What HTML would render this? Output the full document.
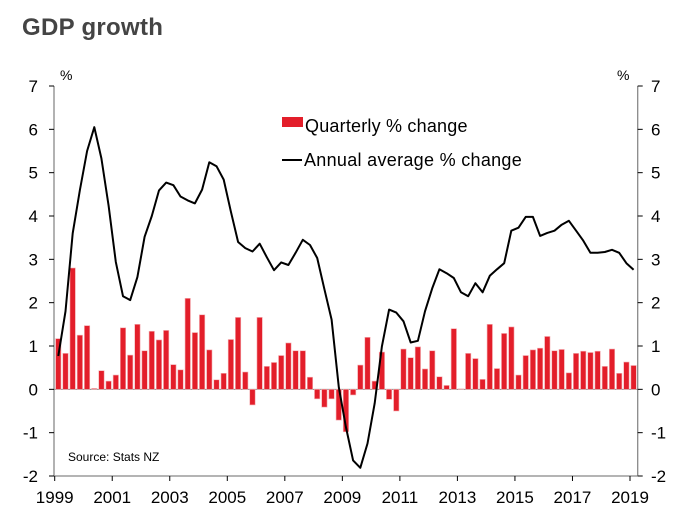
<!DOCTYPE html>
<html><head><meta charset="utf-8"><style>
body{margin:0;background:#fff}
svg{display:block;font-family:"Liberation Sans",sans-serif}
</style></head><body>
<svg id="chart" width="691" height="522">
<text x="22" y="35" font-size="24" fill="#444" font-weight="bold" style="letter-spacing:0.3px">GDP growth</text>
<g id="axes"></g>
<g id="bars"></g>
<g id="line"></g>
<rect x="282" y="117" width="21" height="10" fill="#e31e2a"/>
<text x="305" y="132" font-size="18" fill="#000" style="letter-spacing:0.2px">Quarterly % change</text>
<line x1="282" y1="160" x2="302" y2="160" stroke="#000" stroke-width="2"/>
<text x="304" y="166" font-size="18" fill="#000" style="letter-spacing:0.3px">Annual average % change</text>
<text x="68" y="461" font-size="12" fill="#000">Source: Stats NZ</text>
<text x="60" y="80" font-size="14">%</text>
<text x="617" y="80" font-size="14">%</text>
</svg>
<script>
const quarterly=[1.17,0.83,2.8,1.25, 1.47,0.02,0.43,0.19, 0.33,1.42,0.79,1.5, 0.89,1.34,1.14,1.36, 0.57,0.45,2.1,1.31, 1.72,0.91,0.22,0.37, 1.15,1.66,0.4,-0.36, 1.66,0.53,0.62,0.78, 1.07,0.89,0.89,0.28, -0.22,-0.41,-0.22,-0.71, -0.98,-0.13,0.56,1.2, 0.19,0.86,-0.23,-0.5, 0.93,0.73,0.98,0.47, 0.89,0.29,0.09,1.4, 0.01,0.83,0.71,0.23, 1.5,0.48,1.29,1.44, 0.33,0.78,0.91,0.95, 1.22,0.89,0.92,0.38, 0.83,0.88,0.85,0.88, 0.53,0.93,0.37,0.63, 0.55];
const annual=[0.77,1.8,3.6,4.6,5.5,6.05,5.33,4.24,2.94,2.15,2.06,2.59,3.52,4.0,4.59,4.77,4.71,4.45,4.36,4.29,4.61,5.24,5.15,4.84,4.1,3.4,3.26,3.18,3.36,3.05,2.75,2.93,2.87,3.15,3.45,3.33,3.03,2.31,1.61,0.05,-0.87,-1.64,-1.81,-1.25,-0.32,0.99,1.84,1.77,1.57,1.08,1.12,1.8,2.33,2.77,2.68,2.57,2.24,2.15,2.45,2.24,2.62,2.77,2.91,3.66,3.73,3.98,3.98,3.54,3.61,3.66,3.8,3.89,3.66,3.43,3.15,3.15,3.17,3.22,3.15,2.91,2.76];
const yTicks=[-2,-1,0,1,2,3,4,5,6,7];
const xTickYears=[1999,2001,2003,2005,2007,2009,2011,2013,2015,2017,2019];
const startYear=1999;
const NS="http://www.w3.org/2000/svg";
const L=54,R=637.7,T=86,B=476,yMin=-2,yMax=7,x0=54.7,x1=630;
function y(v){return B-(v-yMin)/(yMax-yMin)*(B-T);}
function xYear(t){return x0+(t-startYear)/20*(x1-x0);}
function xQ(i){return xYear(startYear+(i+0.5)/4);}
function mk(tag,attrs,parent){const e=document.createElementNS(NS,tag);for(const k in attrs)e.setAttribute(k,attrs[k]);parent.appendChild(e);return e;}
const ax=document.getElementById('axes');
let e=mk('line',{x1:L,y1:T,x2:L,y2:B,stroke:'#888','stroke-width':1.3},ax);


e=mk('line',{x1:R,y1:T,x2:R,y2:B,stroke:'#888','stroke-width':1.3},ax);


e=mk('line',{x1:L,y1:B,x2:R,y2:B,stroke:'#888','stroke-width':1.3},ax);


e=mk('line',{x1:L,y1:y(0),x2:R,y2:y(0),stroke:'#888','stroke-width':1},ax);


yTicks.forEach(v=>{
 mk('line',{x1:L-5,y1:y(v),x2:L,y2:y(v),stroke:'#000'},ax);
 mk('line',{x1:R,y1:y(v),x2:R+5,y2:y(v),stroke:'#000'},ax);
 let t=mk('text',{x:38,y:y(v)+6,'text-anchor':'end','font-size':17},ax);t.textContent=v;
 
 
 t=mk('text',{x:651,y:y(v)+6,'font-size':17},ax);t.textContent=v;
 
 
});
xTickYears.forEach(yr=>{
 const x=xYear(yr);
 mk('line',{x1:x,y1:B,x2:x,y2:B+5,stroke:'#000'},ax);
 const t=mk('text',{x:x,y:503,'text-anchor':'middle','font-size':17},ax);t.textContent=yr;
 
 
});
const bg=document.getElementById('bars');
quarterly.forEach((v,i)=>{
 const x=xQ(i),top=Math.min(y(v),y(0)),h=Math.abs(y(v)-y(0));
 const r=mk('rect',{x:x-2.7,y:top,width:5.4,height:Math.max(h,0.5),fill:'#e31e2a',stroke:'#f4b0b4','stroke-width':0.6},bg);
 
 
});
const lg=document.getElementById('line');
const p=mk('polyline',{points:annual.map((v,i)=>xQ(i).toFixed(1)+','+y(v).toFixed(1)).join(' '),fill:'none',stroke:'#000','stroke-width':2,'stroke-linejoin':'round'},lg);


</script>
</body></html>
